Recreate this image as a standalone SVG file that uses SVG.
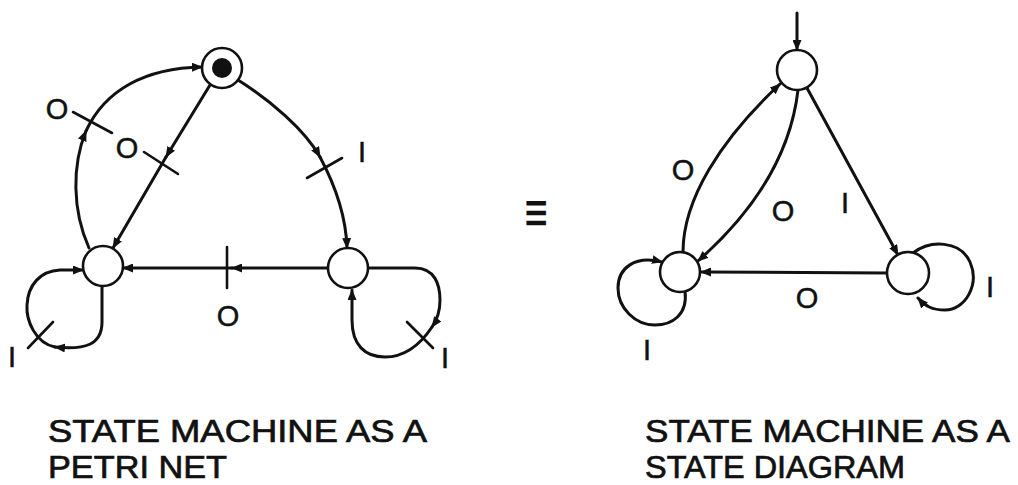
<svg xmlns="http://www.w3.org/2000/svg" width="1018" height="485" viewBox="0 0 1018 485">
<style>
.edge{fill:none;stroke:#111;stroke-width:3;stroke-linecap:round}
.arr{marker-end:url(#ah)}
.node{fill:#fff;stroke:#111;stroke-width:2.6}
.tick{stroke:#111;stroke-width:2.6;stroke-linecap:round}
.lbl{font-family:"Liberation Sans",Arial,sans-serif;font-size:29px;fill:#111;stroke:#111;stroke-width:0.5}
.cap{font-family:"Liberation Sans",Arial,sans-serif;font-size:32px;fill:#111;stroke:#111;stroke-width:0.7}
</style>
<defs>
<marker id="ah" markerUnits="userSpaceOnUse" markerWidth="11" markerHeight="9" viewBox="0 0 11 9" refX="10" refY="4.5" orient="auto">
<path d="M0,0 L11,4.5 L0,9 z" fill="#111"/>
</marker>
</defs>
<rect width="1018" height="485" fill="#fff"/>

<g id="connectors">
<!-- Petri net -->
<path class="edge arr" d="M89 248 C72 210 72 165 86 131"/>
<path class="edge arr" d="M86 131 C105 90 145 68 202 67"/>
<path class="edge arr" d="M210 85 L166 157"/>
<path class="edge arr" d="M166 157 L113 248"/>
<path class="edge arr" d="M238 80 C270 100 305 130 320 157"/>
<path class="edge arr" d="M320 157 C335 185 346 215 347 248"/>
<path class="edge arr" d="M328 268 L232 268"/>
<path class="edge arr" d="M232 268 L123 268"/>
<path class="edge arr" d="M102 287 L102 322 C102 345 85 350 55 347"/>
<path class="edge arr" d="M55 347 C35 343 26 320 27 305 C28 285 40 271 60 270 L83 270"/>
<path class="edge arr" d="M368 268 L415 268 C435 268 440 285 440 300 C440 312 437 320 432 327"/>
<path class="edge arr" d="M432 327 C420 345 405 357 385 357 C365 357 352 345 352 320 L352 290"/>
<!-- State diagram -->
<path class="edge arr" d="M797 13 L797 50"/>
<path class="edge arr" d="M683 252 C683 200 720 140 780 84"/>
<path class="edge arr" d="M798 90 C790 160 750 215 698 261"/>
<path class="edge arr" d="M807 88 L898 255"/>
<path class="edge arr" d="M887 273 L701 272"/>
<path class="edge arr" d="M685 291 C688 315 672 325 655 325 C635 325 618 308 618 288 C618 268 635 255 662 262"/>
<path class="edge arr" d="M913 253 C930 240 960 240 970 262 C980 285 965 310 945 310 C932 310 925 306 918 298"/>
</g>

<g id="t-left-top"><line class="tick" x1="73" y1="112" x2="112" y2="133"/></g>
<g id="t-top-left"><line class="tick" x1="144" y1="152" x2="178" y2="174"/></g>
<g id="t-top-right"><line class="tick" x1="307" y1="178" x2="342" y2="158"/></g>
<g id="t-right-left"><line class="tick" x1="227" y1="247" x2="227" y2="288"/></g>
<g id="t-left-loop"><line class="tick" x1="28" y1="348" x2="53" y2="322"/></g>
<g id="t-right-loop"><line class="tick" x1="407" y1="322" x2="433" y2="348"/></g>

<g id="p-top"><circle class="node" cx="222" cy="68" r="20"/><circle cx="222" cy="68" r="10" fill="#111"/></g>
<g id="p-left"><circle class="node" cx="103" cy="266" r="20"/></g>
<g id="p-right"><circle class="node" cx="348" cy="268" r="20"/></g>

<g id="s-top"><circle class="node" cx="797" cy="70" r="20"/></g>
<g id="s-left"><circle class="node" cx="680" cy="272" r="20"/></g>
<g id="s-right"><circle class="node" cx="908" cy="273" r="21"/></g>

<g id="labels">
<text class="lbl" x="57" y="119" text-anchor="middle">O</text>
<text class="lbl" x="127" y="158" text-anchor="middle">O</text>
<text class="lbl" x="362" y="162" text-anchor="middle">I</text>
<text class="lbl" x="228" y="326" text-anchor="middle">O</text>
<text class="lbl" x="12" y="367" text-anchor="middle">I</text>
<text class="lbl" x="445" y="368" text-anchor="middle">I</text>
<text class="lbl" x="683" y="180" text-anchor="middle">O</text>
<text class="lbl" x="783" y="221" text-anchor="middle">O</text>
<text class="lbl" x="845" y="213" text-anchor="middle">I</text>
<text class="lbl" x="807" y="308" text-anchor="middle">O</text>
<text class="lbl" x="647" y="360" text-anchor="middle">I</text>
<text class="lbl" x="990" y="297" text-anchor="middle">I</text>
</g>

<g id="equiv"><text transform="translate(536,213) scale(0.78,1.35)" x="0" y="12.6" text-anchor="middle" font-family="DejaVu Sans, sans-serif" font-size="40" fill="#111">≡</text></g>

<g id="captions">
<text class="cap" x="48" y="442" textLength="379" lengthAdjust="spacingAndGlyphs">STATE MACHINE AS A</text>
<text class="cap" x="48" y="478" textLength="179" lengthAdjust="spacingAndGlyphs">PETRI NET</text>
<text class="cap" x="645" y="442" textLength="365" lengthAdjust="spacingAndGlyphs">STATE MACHINE AS A</text>
<text class="cap" x="645" y="478" textLength="260" lengthAdjust="spacingAndGlyphs">STATE DIAGRAM</text>
</g>
</svg>
